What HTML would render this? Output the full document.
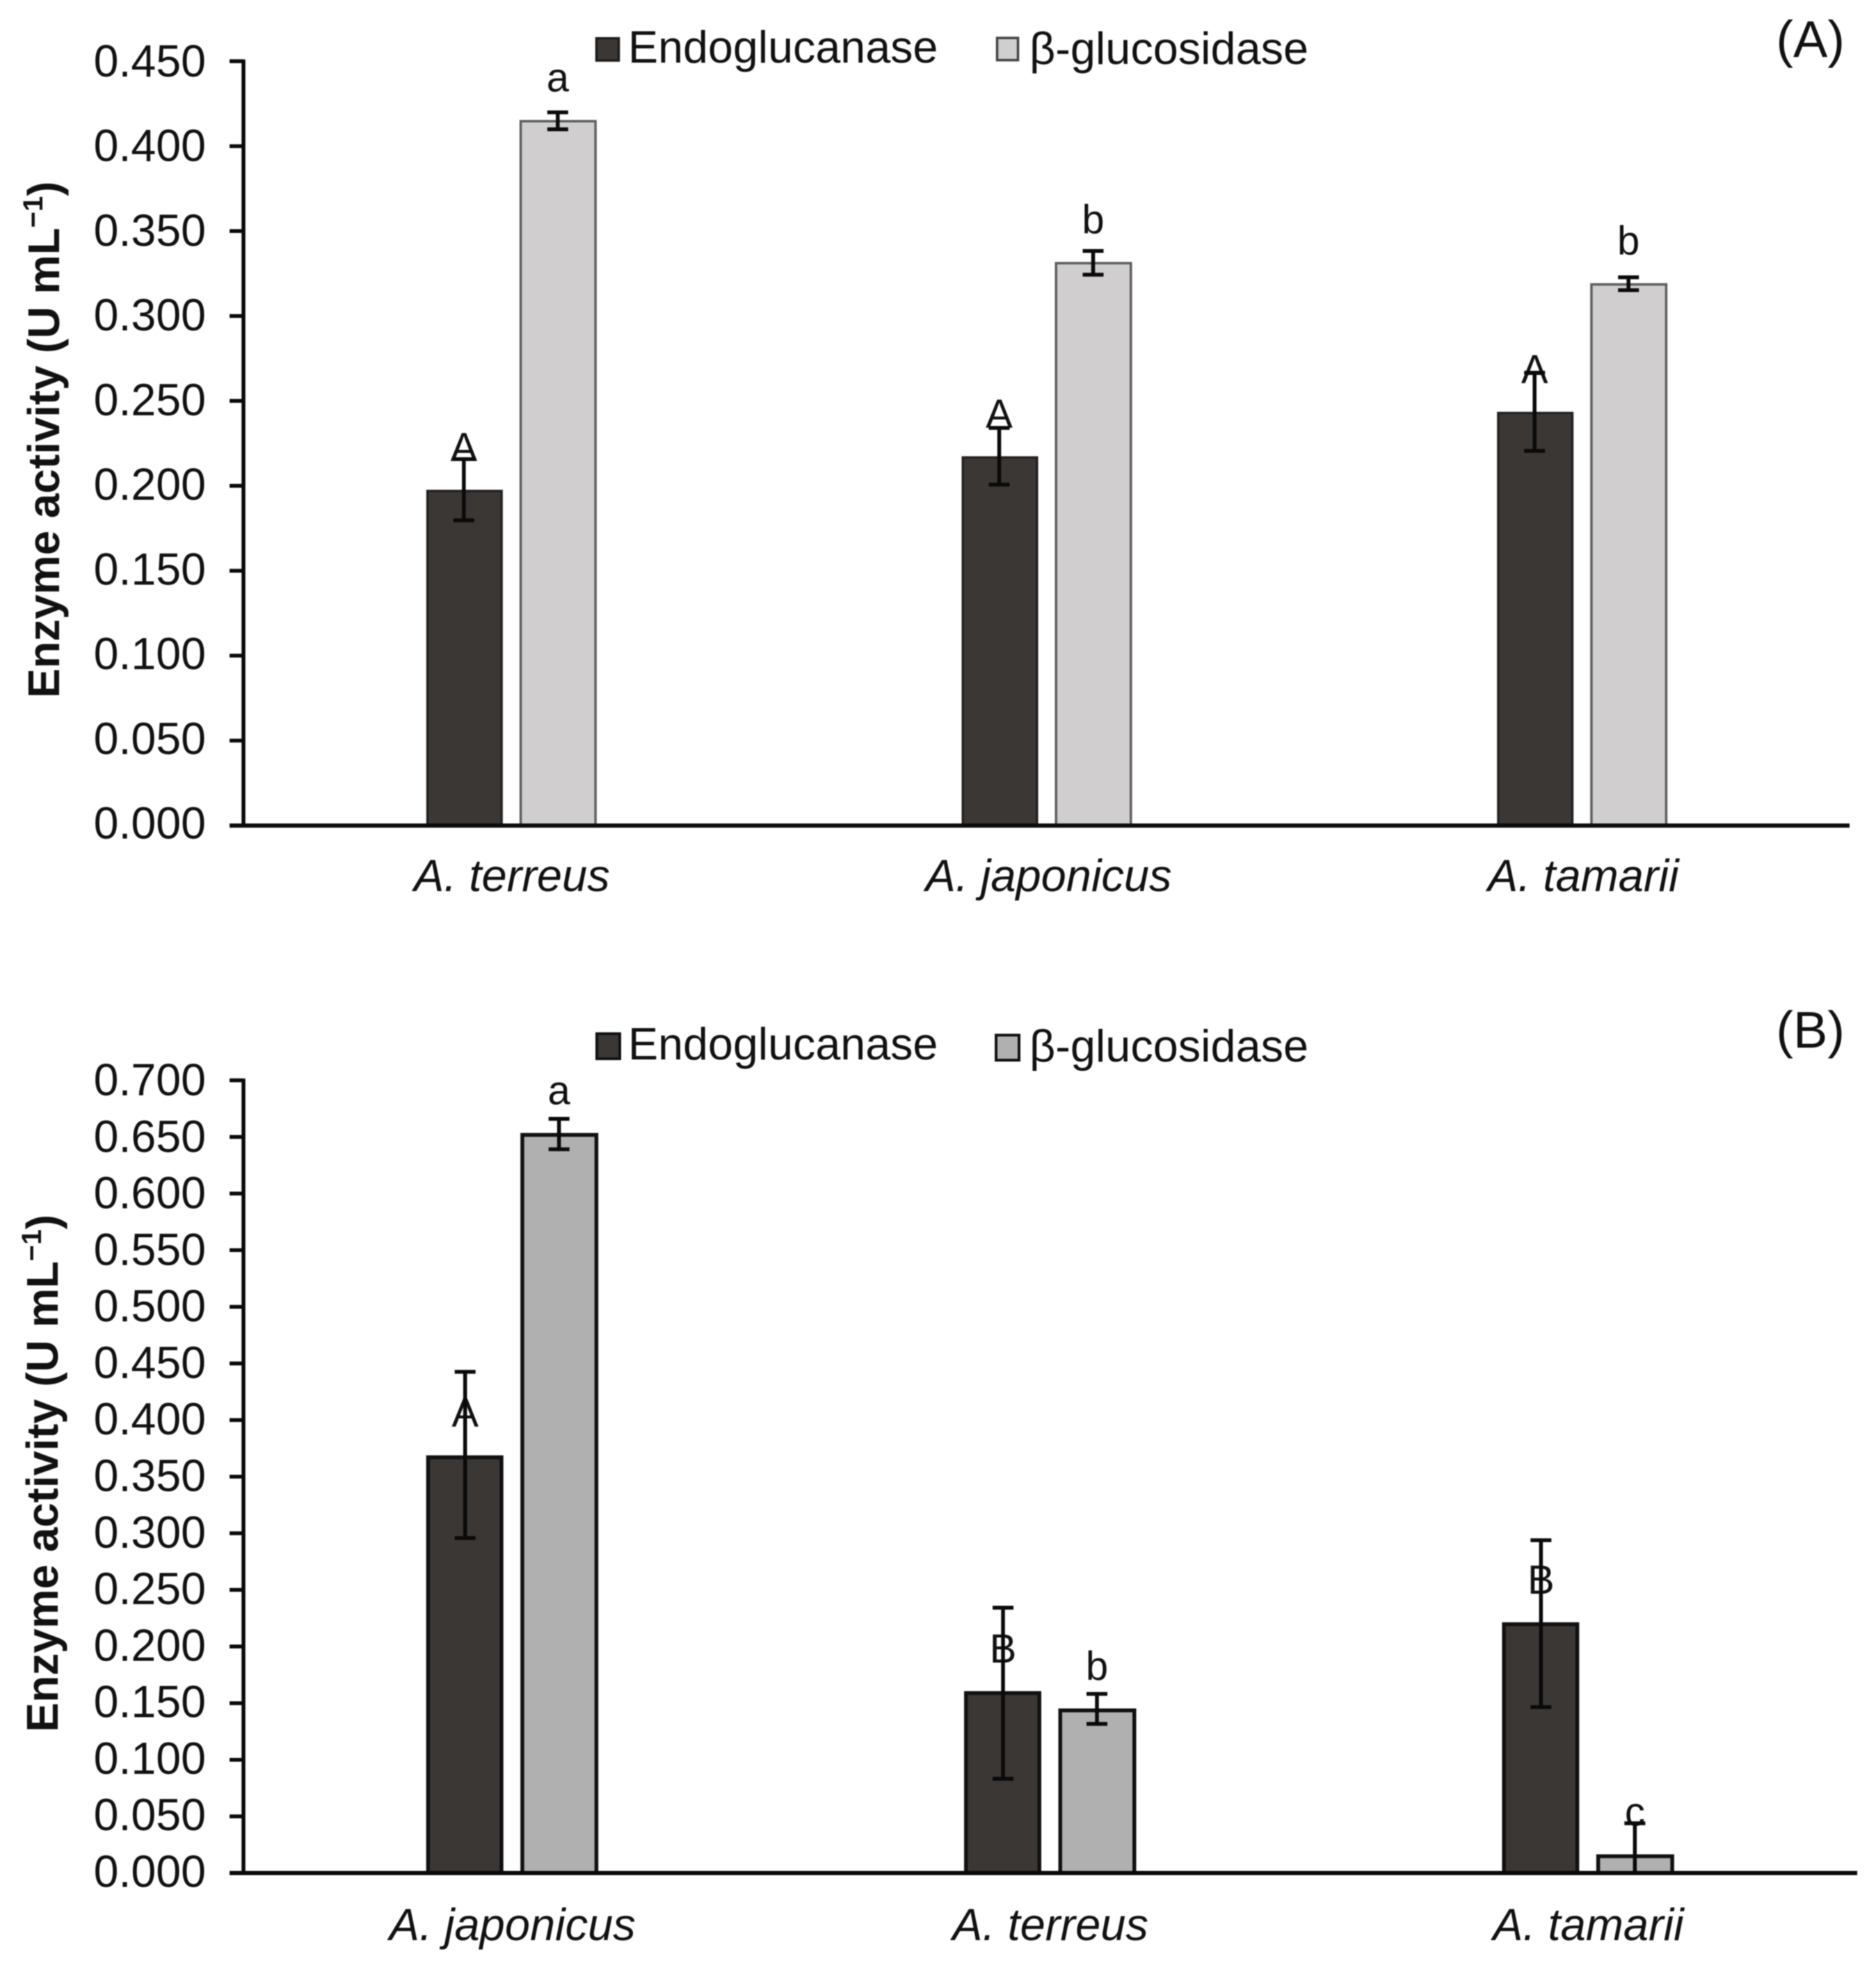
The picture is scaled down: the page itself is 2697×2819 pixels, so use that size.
<!DOCTYPE html>
<html lang="en">
<head>
<meta charset="utf-8">
<title>Enzyme activity charts</title>
<style>
html,body{margin:0;padding:0;background:#fff;}
svg{display:block;filter:blur(0.9px);}
text{font-family:"Liberation Sans",Arial,sans-serif;fill:#111;}
</style>
</head>
<body>
<svg id="figure" xmlns="http://www.w3.org/2000/svg" width="2697" height="2819" viewBox="0 0 2697 2819">
  <rect x="0" y="0" width="2697" height="2819" fill="#ffffff"/>

  <g id="panel-a"></g>
  <g id="panel-b"></g>

  <g>
    <rect x="857.5" y="55" width="32" height="32" fill="#3b3735" stroke="#1c1c1c" stroke-width="3.5"/>
    <text x="903" y="90" font-size="64.6">Endoglucanase</text>
    <rect x="1433.5" y="54.5" width="30" height="32" fill="#d0cece" stroke="#444" stroke-width="3.5"/>
    <text x="1480" y="92" font-size="64.8">β-glucosidase</text>
  </g>
  <g>
    <rect x="858" y="1486" width="33" height="36" fill="#3b3735" stroke="#111" stroke-width="4"/>
    <text x="903" y="1523" font-size="64.6">Endoglucanase</text>
    <rect x="1432" y="1488" width="33" height="36" fill="#b0b0b0" stroke="#111" stroke-width="4"/>
    <text x="1480" y="1526" font-size="64.8">β-glucosidase</text>
  </g>

  <text x="2652" y="82" font-size="74" text-anchor="end">(A)</text>
  <text x="2652" y="1506" font-size="74" text-anchor="end">(B)</text>

  <text transform="translate(85 632) rotate(-90)" font-size="63.7" font-weight="bold" text-anchor="middle">Enzyme activity (U mL<tspan font-size="40" dy="-24">−1</tspan><tspan dy="24">)</tspan></text>
  <text transform="translate(83 2118) rotate(-90)" font-size="63.8" font-weight="bold" text-anchor="middle">Enzyme activity (U mL<tspan font-size="40" dy="-24">−1</tspan><tspan dy="24">)</tspan></text>
</svg>

<script>
// ---- Panel A data ----
const categoriesA = ["A. terreus", "A. japonicus", "A. tamarii"];
const ticksA = ["0.000", "0.050", "0.100", "0.150", "0.200", "0.250", "0.300", "0.350", "0.400", "0.450"];
const endoA = [0.1977, 0.2174, 0.2436];
const betaA = [0.4154, 0.3318, 0.3193];
const endoErrUpA = [0.018, 0.0167, 0.023];
const endoErrDownA = [0.018, 0.0167, 0.023];
const betaErrUpA = [0.0045, 0.0065, 0.0035];
const betaErrDownA = [0.0055, 0.0075, 0.0041];
const endoLettersA = ["A", "A", "A"];
const betaLettersA = ["a", "b", "b"];

// ---- Panel B data ----
const categoriesB = ["A. japonicus", "A. terreus", "A. tamarii"];
const ticksB = ["0.000", "0.050", "0.100", "0.150", "0.200", "0.250", "0.300", "0.350", "0.400", "0.450", "0.500", "0.550", "0.600", "0.650", "0.700"];
const endoB = [0.3688, 0.1606, 0.2214];
const betaB = [0.6535, 0.1453, 0.0165];
const endoErrUpB = [0.0738, 0.0737, 0.0725];
const endoErrDownB = [0.073, 0.0774, 0.0749];
const betaErrUpB = [0.0125, 0.0129, 0.0274];
const betaErrDownB = [0.0144, 0.0136, 0.03];
const endoLettersB = ["A", "B", "B"];
const betaLettersB = ["a", "b", "c"];

const SVG_NS = "http://www.w3.org/2000/svg";

function make(parent, tag, attrs, content) {
  const el = document.createElementNS(SVG_NS, tag);
  for (const k in attrs) el.setAttribute(k, attrs[k]);
  if (content !== undefined) el.textContent = content;
  parent.appendChild(el);
  return el;
}

function drawPanel(id, cfg, categories, ticks, endo, beta, endoUp, endoDown, betaUp, betaDown, endoLetters, betaLetters) {
  const root = document.getElementById(id);
  const maxTick = parseFloat(ticks[ticks.length - 1]);
  const y = function (v) { return cfg.y0 - (v / maxTick) * (cfg.y0 - cfg.yTop); };
  const band = (cfg.xEnd - cfg.x0) / categories.length;
  const xc = function (i) { return cfg.x0 + band * (i + 0.5); };

  function drawBar(i, v, left, width, fill, stroke, sw, name) {
    const bar = make(root, "rect", {
      x: xc(i) + left + sw / 2,
      y: y(v) + sw / 2,
      width: width - sw,
      height: Math.max(0, cfg.y0 - y(v) - sw / 2),
      fill: fill,
      stroke: stroke,
      "stroke-width": sw
    });
    
    
  }

  function drawError(i, v, up, down, cx, name) {
    const hi = y(v + up);
    const lo = y(Math.max(0, v - down));
    const g = make(root, "g", { stroke: "#0a0a0a", "stroke-width": cfg.errW, fill: "none" });
    
    
    make(g, "line", { x1: xc(i) + cx, x2: xc(i) + cx, y1: hi, y2: lo });
    make(g, "line", { x1: xc(i) + cx - 15, x2: xc(i) + cx + 15, y1: hi, y2: hi });
    make(g, "line", { x1: xc(i) + cx - 15, x2: xc(i) + cx + 15, y1: lo, y2: lo });
  }

  function drawLetter(i, v, cx, letter, name) {
    const t = make(root, "text", {
      x: xc(i) + cx,
      y: y(v) - 41,
      "font-size": 58,
      "text-anchor": "middle"
    }, letter);
    
    
  }

  categories.forEach(function (cat, i) {
    drawBar(i, endo[i], cfg.endoLeft, cfg.endoW, "#3b3735", cfg.endoStroke, cfg.endoSW, id + "-endoglucanase-bar-" + i);
    drawBar(i, beta[i], cfg.betaLeft, cfg.betaW, cfg.betaFill, cfg.betaStroke, cfg.betaSW, id + "-beta-glucosidase-bar-" + i);
    drawLetter(i, endo[i], cfg.endoC, endoLetters[i], id + "-endoglucanase-letter-" + i);
    drawLetter(i, beta[i], cfg.betaC, betaLetters[i], id + "-beta-glucosidase-letter-" + i);
    drawError(i, endo[i], endoUp[i], endoDown[i], cfg.endoC, id + "-endoglucanase-error-bar-" + i);
    drawError(i, beta[i], betaUp[i], betaDown[i], cfg.betaC, id + "-beta-glucosidase-error-bar-" + i);

    const label = make(root, "text", {
      x: xc(i) + cfg.labelShift[i],
      y: cfg.labelY,
      "font-size": 65,
      "font-style": "italic",
      "text-anchor": "middle"
    }, cat);
    
    
  });

  ticks.forEach(function (tick, i) {
    const v = parseFloat(tick);
    const mark = make(root, "line", {
      x1: cfg.x0 - 20, x2: cfg.x0, y1: y(v), y2: y(v),
      stroke: "#0a0a0a", "stroke-width": 5.5
    });
    
    
    const label = make(root, "text", {
      x: 296,
      y: y(v) + cfg.tickDy + (v / maxTick) * cfg.tickDrift,
      "font-size": 64.5,
      "text-anchor": "end"
    }, tick);
    
    
  });

  const yAxis = make(root, "line", {
    x1: cfg.x0, x2: cfg.x0, y1: cfg.yTop - 2.5, y2: cfg.y0,
    stroke: "#0a0a0a", "stroke-width": 5.5
  });
  
  

  const xAxis = make(root, "line", {
    x1: cfg.x0 - 20, x2: cfg.xEnd, y1: cfg.y0, y2: cfg.y0,
    stroke: "#0a0a0a", "stroke-width": 6
  });
  
  
}

drawPanel("panel-a", {
  x0: 350, xEnd: 2659, y0: 1186.7, yTop: 88,
  endoLeft: -122, endoW: 110, endoC: -68, endoStroke: "#222", endoSW: 3.5,
  betaLeft: 12, betaW: 111, betaC: 67, betaFill: "#d0cece", betaStroke: "#5e5e5e", betaSW: 3.5,
  errW: 5.5, labelY: 1281, labelShift: [1, 3, 2], tickDy: 19, tickDrift: 3
}, categoriesA, ticksA, endoA, betaA, endoErrUpA, endoErrDownA, betaErrUpA, betaErrDownA, endoLettersA, betaLettersA);

drawPanel("panel-b", {
  x0: 350, xEnd: 2670, y0: 2692.5, yTop: 1553,
  endoLeft: -124, endoW: 111, endoC: -68, endoStroke: "#111", endoSW: 5.5,
  betaLeft: 11.5, betaW: 112, betaC: 67, betaFill: "#b0b0b0", betaStroke: "#111", betaSW: 5.5,
  errW: 5.5, labelY: 2789, labelShift: [0, 0, 0], tickDy: 20, tickDrift: 1.5
}, categoriesB, ticksB, endoB, betaB, endoErrUpB, endoErrDownB, betaErrUpB, betaErrDownB, endoLettersB, betaLettersB);
</script>
</body>
</html>
